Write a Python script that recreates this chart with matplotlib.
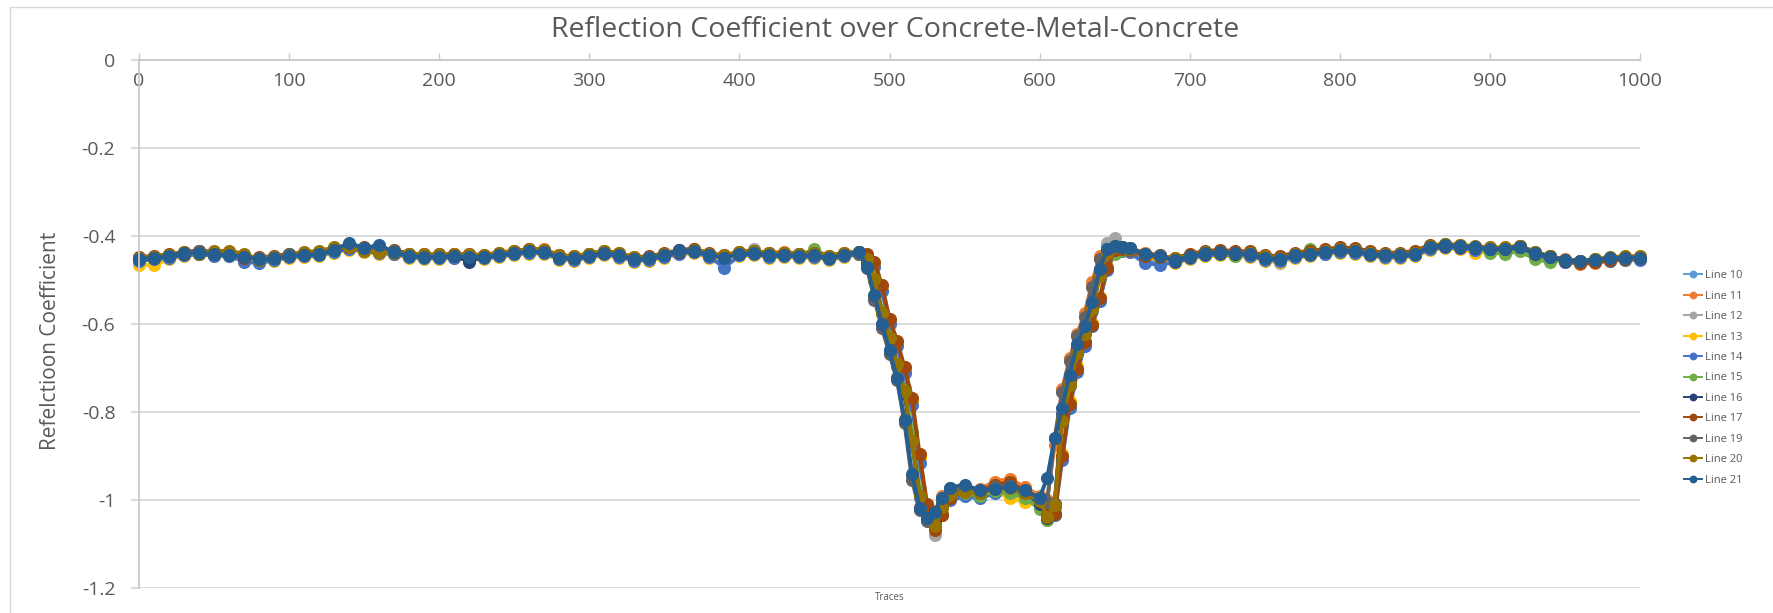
import numpy as np
import matplotlib
matplotlib.use("Agg")
import matplotlib.pyplot as plt
from matplotlib.lines import Line2D

plt.rcParams['font.family'] = ['Open Sans', 'DejaVu Sans']

# Trace positions: coarse on the flat stretches, finer across the two edges of the metal plate
traces = np.concatenate([
    np.arange(0, 480, 10),     # 48
    np.arange(480, 545, 5),    # 13
    np.arange(550, 605, 10),   # 6
    np.arange(605, 660, 5),    # 11
    np.arange(660, 1001, 10),  # 35
])

line_10 = [
    -.455, -.452, -.449, -.443, -.440, -.444, -.442, -.449, -.456, -.454, -.447, -.445,
    -.443, -.436, -.428, -.433, -.439, -.440, -.447, -.450, -.449, -.448, -.450, -.451,
    -.445, -.441, -.437, -.439, -.452, -.454, -.447, -.441, -.446, -.456, -.453, -.446,
    -.439, -.436, -.447, -.452, -.443, -.441, -.446, -.445, -.447, -.446, -.452, -.445,
    -.440, -.455, -.500, -.575, -.630, -.690, -.755, -.870, -.995, -1.040, -1.055, -1.020, -.990,
    -.985, -.990, -.978, -.975, -.986, -1.000,
    -1.035, -1.015, -.830, -.740, -.665, -.620, -.570, -.495, -.440, -.428, -.431,
    -.433, -.446, -.462, -.460, -.450, -.443, -.441, -.443, -.444, -.453, -.455, -.447,
    -.443, -.439, -.435, -.437, -.443, -.447, -.447, -.443, -.429, -.425, -.427, -.430,
    -.433, -.433, -.428, -.443, -.451, -.459, -.461, -.458, -.455, -.453, -.452,
]
line_11 = [
    -.450, -.447, -.443, -.438, -.435, -.436, -.437, -.444, -.450, -.448, -.442, -.440,
    -.437, -.430, -.423, -.428, -.432, -.433, -.441, -.444, -.443, -.442, -.444, -.445,
    -.440, -.435, -.429, -.430, -.445, -.448, -.441, -.436, -.440, -.449, -.447, -.440,
    -.433, -.429, -.440, -.446, -.437, -.435, -.438, -.436, -.441, -.440, -.447, -.440,
    -.437, -.468, -.538, -.600, -.660, -.720, -.815, -.945, -1.015, -1.040, -1.025, -.990, -.972,
    -.972, -.975, -.958, -.952, -.970, -.990,
    -1.000, -.875, -.748, -.678, -.622, -.575, -.505, -.446, -.426, -.422, -.425,
    -.427, -.438, -.443, -.452, -.443, -.436, -.433, -.436, -.437, -.447, -.449, -.441,
    -.437, -.432, -.428, -.430, -.436, -.441, -.441, -.436, -.422, -.418, -.421, -.424,
    -.427, -.427, -.422, -.437, -.446, -.453, -.464, -.462, -.456, -.451, -.449,
]
line_12 = [
    -.453, -.451, -.447, -.441, -.439, -.441, -.441, -.447, -.453, -.451, -.445, -.443,
    -.441, -.433, -.427, -.431, -.436, -.437, -.445, -.447, -.447, -.446, -.447, -.448,
    -.443, -.439, -.435, -.436, -.449, -.451, -.445, -.439, -.444, -.453, -.451, -.444,
    -.437, -.434, -.444, -.449, -.441, -.430, -.444, -.443, -.445, -.444, -.450, -.443,
    -.439, -.452, -.495, -.570, -.625, -.685, -.745, -.860, -.990, -1.045, -1.080, -1.015, -.988,
    -.980, -.984, -.975, -.972, -.985, -1.005,
    -1.045, -1.010, -.815, -.730, -.660, -.615, -.560, -.485, -.415, -.405, -.426,
    -.431, -.443, -.447, -.457, -.448, -.441, -.439, -.441, -.442, -.451, -.462, -.445,
    -.441, -.437, -.433, -.435, -.441, -.445, -.445, -.441, -.427, -.423, -.425, -.428,
    -.431, -.431, -.426, -.441, -.449, -.457, -.459, -.456, -.453, -.451, -.451,
]
line_13 = [
    -.465, -.466, -.452, -.446, -.442, -.446, -.446, -.452, -.458, -.456, -.450, -.448,
    -.446, -.438, -.431, -.436, -.441, -.442, -.450, -.452, -.452, -.451, -.452, -.453,
    -.448, -.444, -.440, -.441, -.454, -.456, -.450, -.444, -.449, -.458, -.456, -.449,
    -.442, -.439, -.449, -.454, -.446, -.444, -.449, -.448, -.450, -.449, -.455, -.448,
    -.442, -.445, -.465, -.520, -.595, -.645, -.705, -.775, -.905, -1.012, -1.058, -1.030, -.998,
    -.985, -.992, -.980, -.995, -1.005, -1.000,
    -1.030, -1.028, -.895, -.775, -.695, -.638, -.598, -.538, -.468, -.433, -.433,
    -.436, -.448, -.452, -.462, -.453, -.446, -.444, -.446, -.447, -.456, -.460, -.450,
    -.446, -.442, -.438, -.440, -.446, -.450, -.450, -.446, -.432, -.428, -.430, -.438,
    -.436, -.436, -.431, -.446, -.452, -.460, -.462, -.459, -.456, -.454, -.453,
]
line_14 = [
    -.456, -.453, -.450, -.444, -.441, -.445, -.445, -.458, -.462, -.455, -.448, -.446,
    -.444, -.436, -.429, -.434, -.439, -.440, -.448, -.450, -.450, -.449, -.450, -.451,
    -.446, -.442, -.438, -.439, -.452, -.454, -.448, -.442, -.447, -.456, -.454, -.447,
    -.440, -.437, -.447, -.472, -.444, -.442, -.447, -.446, -.448, -.447, -.453, -.446,
    -.441, -.447, -.470, -.525, -.600, -.650, -.712, -.785, -.915, -1.020, -1.060, -1.035, -1.000,
    -.992, -.996, -.985, -.982, -.992, -1.010,
    -1.040, -1.035, -.910, -.790, -.710, -.650, -.605, -.548, -.478, -.438, -.435,
    -.437, -.462, -.465, -.460, -.451, -.444, -.442, -.444, -.445, -.454, -.456, -.448,
    -.444, -.440, -.436, -.438, -.444, -.448, -.448, -.444, -.430, -.426, -.428, -.431,
    -.434, -.434, -.429, -.444, -.452, -.460, -.462, -.459, -.456, -.454, -.454,
]
line_15 = [
    -.451, -.449, -.445, -.439, -.436, -.439, -.439, -.445, -.451, -.449, -.443, -.441,
    -.439, -.431, -.424, -.429, -.434, -.435, -.443, -.445, -.445, -.444, -.445, -.446,
    -.441, -.437, -.433, -.434, -.447, -.449, -.443, -.437, -.442, -.451, -.449, -.442,
    -.435, -.432, -.442, -.447, -.439, -.437, -.442, -.441, -.443, -.430, -.448, -.441,
    -.436, -.450, -.492, -.570, -.628, -.690, -.750, -.845, -.975, -1.025, -1.040, -1.005, -.985,
    -.985, -.990, -.980, -.985, -.995, -1.020,
    -1.045, -1.015, -.810, -.725, -.655, -.612, -.558, -.480, -.445, -.440, -.432,
    -.429, -.441, -.445, -.455, -.446, -.439, -.437, -.445, -.440, -.449, -.451, -.443,
    -.430, -.435, -.431, -.433, -.439, -.443, -.443, -.439, -.425, -.421, -.423, -.426,
    -.438, -.440, -.435, -.452, -.460, -.455, -.457, -.454, -.451, -.449, -.449,
]
line_16 = [
    -.452, -.450, -.446, -.440, -.437, -.440, -.440, -.446, -.452, -.450, -.444, -.442,
    -.440, -.432, -.425, -.430, -.435, -.436, -.444, -.446, -.446, -.445, -.458, -.447,
    -.442, -.438, -.434, -.435, -.448, -.450, -.444, -.438, -.443, -.452, -.450, -.443,
    -.436, -.433, -.443, -.448, -.440, -.438, -.443, -.442, -.444, -.443, -.449, -.442,
    -.438, -.462, -.500, -.575, -.632, -.695, -.760, -.865, -.990, -1.030, -1.048, -1.012, -.985,
    -.980, -.985, -.972, -.970, -.982, -1.008,
    -1.040, -1.010, -.805, -.725, -.655, -.615, -.560, -.485, -.438, -.425, -.428,
    -.430, -.442, -.446, -.456, -.447, -.440, -.438, -.440, -.441, -.450, -.452, -.444,
    -.440, -.436, -.432, -.434, -.440, -.444, -.444, -.440, -.426, -.422, -.424, -.427,
    -.430, -.430, -.425, -.440, -.448, -.456, -.458, -.455, -.452, -.450, -.450,
]
line_17 = [
    -.448, -.445, -.442, -.436, -.433, -.436, -.436, -.450, -.448, -.446, -.440, -.438,
    -.436, -.428, -.421, -.426, -.431, -.432, -.440, -.442, -.442, -.441, -.442, -.443,
    -.438, -.434, -.430, -.431, -.444, -.446, -.440, -.434, -.439, -.448, -.446, -.439,
    -.432, -.429, -.439, -.444, -.436, -.434, -.439, -.438, -.440, -.439, -.445, -.438,
    -.436, -.440, -.460, -.512, -.588, -.638, -.698, -.768, -.895, -1.008, -1.068, -1.035, -.995,
    -.978, -.980, -.965, -.960, -.978, -.998,
    -1.035, -1.032, -.900, -.782, -.702, -.642, -.602, -.542, -.472, -.432, -.430,
    -.432, -.446, -.448, -.450, -.441, -.434, -.432, -.434, -.435, -.444, -.446, -.438,
    -.434, -.430, -.426, -.428, -.434, -.438, -.438, -.434, -.420, -.420, -.422, -.425,
    -.428, -.428, -.423, -.438, -.446, -.454, -.462, -.460, -.455, -.452, -.451,
]
line_19 = [
    -.450, -.448, -.444, -.438, -.435, -.438, -.438, -.444, -.450, -.448, -.442, -.440,
    -.438, -.430, -.423, -.428, -.433, -.434, -.442, -.444, -.444, -.443, -.444, -.445,
    -.440, -.436, -.432, -.433, -.446, -.448, -.442, -.436, -.441, -.450, -.448, -.441,
    -.434, -.431, -.441, -.446, -.438, -.436, -.441, -.440, -.442, -.441, -.447, -.440,
    -.440, -.472, -.545, -.610, -.668, -.728, -.825, -.955, -1.022, -1.048, -1.032, -.998, -.978,
    -.978, -.982, -.970, -.968, -.980, -.995,
    -1.005, -.860, -.755, -.685, -.628, -.585, -.515, -.452, -.430, -.423, -.426,
    -.428, -.440, -.444, -.454, -.445, -.438, -.436, -.438, -.439, -.448, -.450, -.442,
    -.438, -.434, -.430, -.432, -.438, -.442, -.442, -.438, -.424, -.420, -.422, -.425,
    -.428, -.428, -.423, -.438, -.446, -.454, -.456, -.453, -.450, -.448, -.448,
]
line_20 = [
    -.449, -.447, -.443, -.437, -.440, -.434, -.434, -.440, -.454, -.447, -.446, -.436,
    -.434, -.426, -.426, -.433, -.436, -.438, -.440, -.442, -.442, -.441, -.442, -.443,
    -.438, -.434, -.430, -.431, -.444, -.446, -.440, -.434, -.439, -.448, -.450, -.442,
    -.432, -.431, -.440, -.444, -.436, -.434, -.439, -.438, -.440, -.439, -.445, -.438,
    -.437, -.452, -.498, -.575, -.632, -.692, -.752, -.865, -.990, -1.040, -1.060, -1.015, -.988,
    -.982, -.985, -.975, -.972, -.985, -1.002,
    -1.038, -1.012, -.820, -.738, -.665, -.622, -.565, -.490, -.438, -.426, -.426,
    -.430, -.442, -.446, -.450, -.445, -.436, -.436, -.438, -.439, -.446, -.450, -.442,
    -.438, -.434, -.430, -.432, -.438, -.442, -.442, -.438, -.422, -.418, -.420, -.423,
    -.426, -.426, -.422, -.436, -.446, -.454, -.456, -.453, -.448, -.446, -.446,
]
line_21 = [
    -.452, -.450, -.445, -.438, -.438, -.441, -.444, -.447, -.453, -.451, -.445, -.443,
    -.441, -.432, -.415, -.428, -.420, -.437, -.445, -.447, -.447, -.446, -.447, -.448,
    -.443, -.439, -.435, -.436, -.449, -.451, -.445, -.439, -.444, -.453, -.451, -.444,
    -.432, -.434, -.444, -.449, -.441, -.439, -.444, -.443, -.445, -.444, -.450, -.443,
    -.436, -.470, -.535, -.600, -.660, -.722, -.818, -.940, -1.018, -1.042, -1.028, -.995, -.972,
    -.965, -.978, -.975, -.970, -.978, -.995,
    -.950, -.860, -.790, -.715, -.645, -.605, -.550, -.475, -.430, -.422, -.426,
    -.428, -.441, -.446, -.455, -.446, -.439, -.437, -.439, -.440, -.450, -.452, -.444,
    -.440, -.436, -.432, -.434, -.440, -.444, -.444, -.440, -.425, -.421, -.423, -.426,
    -.429, -.429, -.424, -.439, -.447, -.455, -.457, -.454, -.451, -.449, -.449,
]

series_names = ["Line 10", "Line 11", "Line 12", "Line 13", "Line 14", "Line 15",
                "Line 16", "Line 17", "Line 19", "Line 20", "Line 21"]
series_values = [line_10, line_11, line_12, line_13, line_14, line_15,
                 line_16, line_17, line_19, line_20, line_21]
series_colors = ["#5B9BD5", "#ED7D31", "#A5A5A5", "#FFC000", "#4472C4", "#70AD47",
                 "#264478", "#9E480E", "#636363", "#997300", "#255E91"]

x_ticks = [0, 100, 200, 300, 400, 500, 600, 700, 800, 900, 1000]
y_ticks = [-1.2, -1.0, -0.8, -0.6, -0.4, -0.2, 0.0]
y_tick_labels = ["-1.2", "-1", "-0.8", "-0.6", "-0.4", "-0.2", "0"]

W, H = 1773, 613
fig = plt.figure(figsize=(W / 100, H / 100), dpi=100)
fig.patch.set_facecolor("white")

# chart-area border
fig.add_artist(Line2D([10 / W, 1.0], [1 - 7 / H, 1 - 7 / H], color="#d9d9d9", lw=1.0,
                      transform=fig.transFigure))
fig.add_artist(Line2D([10 / W, 10 / W], [0.0, 1 - 7 / H], color="#d9d9d9", lw=1.0,
                      transform=fig.transFigure))

left, right, top, bottom = 139, 1640, 60, 588
ax = fig.add_axes([left / W, 1 - bottom / H, (right - left) / W, (bottom - top) / H])

text_color = "#595959"
grid_color = "#d9d9d9"

for name, vals, col in zip(series_names, series_values, series_colors):
    ax.plot(traces, vals, "-o", color=col, lw=2.8, ms=8.4, mec=col, mfc=col,
            label=name, clip_on=False)

ax.set_xlim(0, 1000)
ax.set_ylim(-1.2, 0)
ax.set_yticks(y_ticks)
ax.set_yticklabels(y_tick_labels)
ax.set_xticks(x_ticks)
ax.set_xticklabels([str(t) for t in x_ticks])

ax.set_axisbelow(True)
ax.yaxis.grid(True, color=grid_color, lw=1.3)
ax.xaxis.grid(False)

for s in ["top", "right"]:
    ax.spines[s].set_visible(False)
ax.spines["bottom"].set_position(("data", 0))
ax.spines["bottom"].set_color("#c8c8c8")
ax.spines["bottom"].set_linewidth(1.3)
ax.spines["left"].set_color("#c8c8c8")
ax.spines["left"].set_linewidth(1.3)

ax.tick_params(axis="x", direction="in", length=5, width=1.0, color="#c8c8c8",
               labelsize=14, labelcolor=text_color, pad=9)
ax.tick_params(axis="y", direction="out", length=6, width=1.3, color=grid_color,
               labelsize=14, labelcolor=text_color, pad=11)

ax.set_xlabel("Traces", fontsize=7, color=text_color)
ax.xaxis.set_label_coords(0.5, -0.008)

fig.text(895 / W, 1 - 30 / H, "Reflection Coefficient over Concrete-Metal-Concrete",
         ha="center", va="center", fontsize=20.5, color=text_color)
fig.text(51 / W, 1 - 341 / H, "Refelctioon Coefficient", rotation=90,
         ha="center", va="center", fontsize=15, color=text_color)

leg = fig.legend(loc="center left", bbox_to_anchor=(1684 / W, 1 - 378 / H),
                 frameon=False, fontsize=8, labelcolor=text_color,
                 handlelength=1.6, handletextpad=0.3, labelspacing=0.85,
                 markerscale=0.55, borderaxespad=0, borderpad=0)
for h in leg.legend_handles:
    h.set_linewidth(1.4)

fig.savefig("out.png", dpi=100, facecolor="white")
